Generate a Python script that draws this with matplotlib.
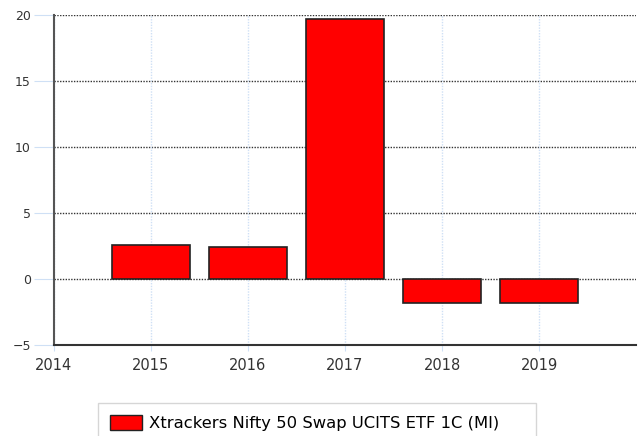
import numpy as np
import matplotlib.pyplot as plt
from matplotlib.patches import Patch

years = [2015, 2016, 2017, 2018, 2019]
returns = [2.6, 2.42, 19.7, -1.8, -1.8]
series_name = 'Xtrackers Nifty 50 Swap UCITS ETF 1C (MI)'

fig = plt.figure(figsize=(6.4, 4.36), dpi=100)
ax = fig.add_axes([0.084, 0.2087, 0.91, 0.757])

ax.bar(years, returns, width=0.8, color='#ff0000', edgecolor='#222222', linewidth=1.2, zorder=3)

ax.set_xlim(2014, 2020)
ax.set_ylim(-5, 20)
ax.set_xticks(np.arange(2014, 2020))
ax.set_yticks(np.arange(-5, 21, 5))

# dotted horizontal grid, faint blue verticals
for y in np.arange(0, 21, 5):
    ax.axhline(y, color='#333333', linestyle=(0, (1, 1)), linewidth=1, zorder=1)
ax.xaxis.grid(True, color='#cfe0f5', linestyle=(0, (1, 1)), linewidth=1, zorder=0)

for s in ['top', 'right']:
    ax.spines[s].set_visible(False)
ax.spines['left'].set_color('#555555')
ax.spines['left'].set_linewidth(1.5)
ax.spines['bottom'].set_color('#333333')
ax.spines['bottom'].set_linewidth(1.5)

ax.tick_params(axis='y', length=14.5, color='#cfe0f5', labelsize=9, labelcolor='#333333', pad=2)
ax.tick_params(axis='x', length=4, color='#cfe0f5', labelsize=10.5, labelcolor='#333333', pad=5)

handle = Patch(facecolor='#ff0000', edgecolor='#222222', linewidth=1)
leg = fig.legend([handle], [series_name], loc='upper left',
                 bbox_to_anchor=(98 / 640, 0, 438 / 640, 33 / 436), mode='expand',
                 fontsize=11.8, frameon=True, fancybox=False, edgecolor='#cccccc',
                 handlelength=1.95, handleheight=1.0, borderpad=0.75, handletextpad=0.4,
                 borderaxespad=0)
leg.get_frame().set_linewidth(1)

fig.savefig('out.png', dpi=100)
